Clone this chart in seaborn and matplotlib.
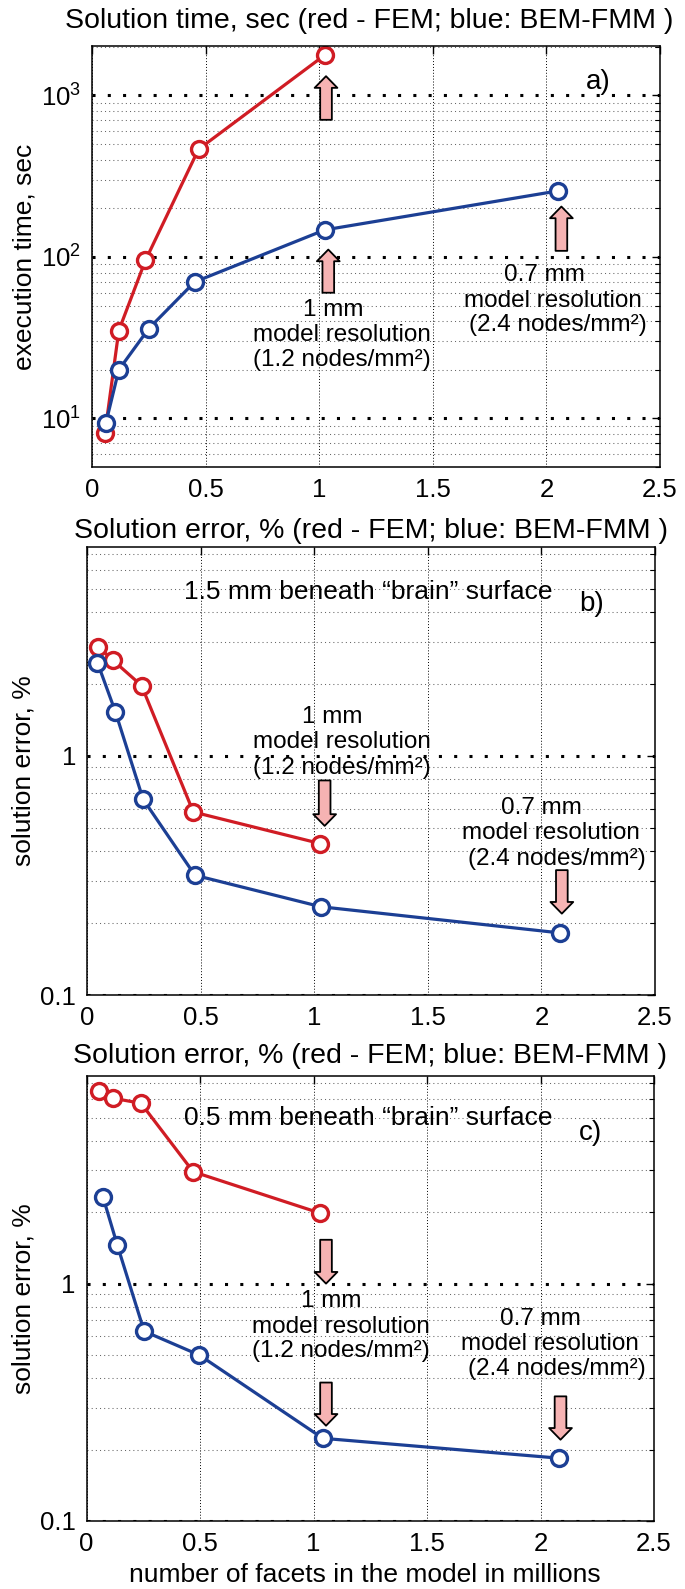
import matplotlib
matplotlib.use('Agg')
import matplotlib.pyplot as plt
import seaborn as sns
from matplotlib.ticker import FixedLocator, NullLocator, FuncFormatter, LogLocator, NullFormatter

# Style: white background, MATLAB-like black axes
sns.set_theme(style='white', rc={'axes.edgecolor': 'black', 'text.color': 'black',
                                 'xtick.color': 'black', 'ytick.color': 'black',
                                 'axes.labelcolor': 'black', 'axes.linewidth': 1.1})
plt.rcParams['font.family'] = ['Liberation Sans', 'DejaVu Sans']

RED = '#d01c24'
BLUE = '#1c3f94'
PINK = '#f6b3b3'

# ---- data ----
# a) solution time, sec
a_fem_x = [0.057, 0.118, 0.235, 0.469, 1.025]
a_fem_y = [8.1, 35, 95, 464, 1780]
a_bem_x = [0.061, 0.118, 0.250, 0.452, 1.025, 2.05]
a_bem_y = [9.35, 20, 36, 70, 147, 256]

# b) solution error, % at 1.5 mm
b_fem_x = [0.049, 0.115, 0.240, 0.468, 1.027]
b_fem_y = [2.87, 2.51, 1.97, 0.583, 0.43]
b_bem_x = [0.046, 0.125, 0.247, 0.475, 1.030, 2.08]
b_bem_y = [2.46, 1.53, 0.659, 0.317, 0.234, 0.182]

# c) solution error, % at 0.5 mm
c_fem_x = [0.054, 0.117, 0.240, 0.470, 1.030]
c_fem_y = [6.5, 6.04, 5.75, 2.96, 1.98]
c_bem_x = [0.073, 0.135, 0.254, 0.497, 1.041, 2.08]
c_bem_y = [2.31, 1.46, 0.63, 0.50, 0.223, 0.184]

x_ticks = [0, 0.5, 1, 1.5, 2, 2.5]
x_tick_labels = ['0', '0.5', '1', '1.5', '2', '2.5']

title_a = 'Solution time, sec (red - FEM; blue: BEM-FMM )'
title_err = 'Solution error, % (red - FEM; blue: BEM-FMM )'

# annotation arrows: (x, tail y, tip y)
arrows_a = [(1.03, 706, 1315), (1.04, 60, 111), (2.066, 109, 205)]
arrows_b = [(1.046, 0.79, 0.51), (2.09, 0.333, 0.219)]
arrows_c = [(1.055, 1.53, 1.0), (1.055, 0.383, 0.252), (2.088, 0.335, 0.22)]

# annotation text lines: (text, x, y)
notes_a = [('1 mm', 1.06, 47), ('model resolution', 1.10, 33), ('(1.2 nodes/mm²)', 1.10, 23),
           ('0.7 mm', 1.99, 77), ('model resolution', 2.03, 53), ('(2.4 nodes/mm²)', 2.05, 38)]
notes_b = [('1 mm', 1.08, 1.455), ('model resolution', 1.12, 1.14), ('(1.2 nodes/mm²)', 1.12, 0.894),
           ('0.7 mm', 2.0, 0.603), ('model resolution', 2.04, 0.474), ('(2.4 nodes/mm²)', 2.07, 0.369)]
notes_c = [('1 mm', 1.08, 0.845), ('model resolution', 1.12, 0.657), ('(1.2 nodes/mm²)', 1.12, 0.52),
           ('0.7 mm', 2.0, 0.71), ('model resolution', 2.04, 0.555), ('(2.4 nodes/mm²)', 2.07, 0.438)]

fig = plt.figure(figsize=(6.85, 15.89), dpi=100)
ax_a = fig.add_axes([0.1343, 0.7061, 0.8292, 0.2649])
ax_b = fig.add_axes([0.1270, 0.3738, 0.8292, 0.2821])
ax_c = fig.add_axes([0.1263, 0.0428, 0.8285, 0.2801])


def style_axes(ax, ylim):
    ax.set_yscale('log')
    ax.set_xlim(0, 2.5)
    ax.set_ylim(*ylim)
    ax.xaxis.set_major_locator(FixedLocator(x_ticks))
    ax.set_xticklabels(x_tick_labels)
    ax.xaxis.set_minor_locator(NullLocator())
    ax.yaxis.set_major_locator(LogLocator(base=10, numticks=10))
    ax.yaxis.set_minor_locator(LogLocator(base=10, subs=range(2, 10), numticks=30))
    ax.yaxis.set_minor_formatter(NullFormatter())
    ax.grid(True, which='major', axis='x', color='black', linestyle=(0, (1, 2)), linewidth=0.7)
    ax.grid(True, which='major', axis='y', color='black', linestyle=(0, (1, 4)), linewidth=2.2)
    ax.grid(True, which='minor', axis='y', color='#666666', linestyle=(0, (1, 3)), linewidth=0.75)
    ax.tick_params(which='major', direction='in', length=6, width=1, top=True, right=True,
                   labelsize=18.5, pad=8)
    ax.tick_params(which='minor', direction='in', length=3.5, width=0.8, top=True, right=True)
    for s in ax.spines.values():
        s.set_color('black')
        s.set_linewidth(1.1)


def draw_series(ax, fx, fy, bx, by):
    line_kw = dict(marker='o', markersize=11.5, markerfacecolor='white',
                   markeredgewidth=2.4, linewidth=2.3, sort=False, legend=False)
    sns.lineplot(x=fx, y=fy, ax=ax, color=RED, markeredgecolor=RED, **line_kw)
    sns.lineplot(x=bx, y=by, ax=ax, color=BLUE, markeredgecolor=BLUE, **line_kw)


def draw_arrows(ax, arrows):
    for x, y0, y1 in arrows:
        ax.annotate('', xy=(x, y1), xytext=(x, y0),
                    arrowprops=dict(arrowstyle='simple,head_width=0.82,head_length=0.42,tail_width=0.42',
                                    mutation_scale=20, fc=PINK, ec='black', lw=1.3,
                                    shrinkA=0, shrinkB=0), zorder=4)


def draw_notes(ax, notes):
    for t, x, y in notes:
        ax.text(x, y, t, ha='center', va='center', fontsize=17.5, zorder=5)


# panel a
style_axes(ax_a, (5, 2020))
draw_series(ax_a, a_fem_x, a_fem_y, a_bem_x, a_bem_y)
draw_arrows(ax_a, arrows_a)
draw_notes(ax_a, notes_a)
ax_a.text(2.23, 1210, 'a)', ha='center', va='center', fontsize=20)
ax_a.set_title(title_a, fontsize=20.5, pad=13, x=0.488)
ax_a.set_ylabel('execution time, sec', fontsize=19)
ax_a.yaxis.set_label_coords(-0.098, 0.5)
ax_a.set_xlabel('')

# panel b
pct = FuncFormatter(lambda v, p: f'{v:g}')
style_axes(ax_b, (0.1, 7.5))
ax_b.yaxis.set_major_formatter(pct)
draw_series(ax_b, b_fem_x, b_fem_y, b_bem_x, b_bem_y)
draw_arrows(ax_b, arrows_b)
draw_notes(ax_b, notes_b)
ax_b.text(1.24, 4.85, '1.5 mm beneath “brain” surface', ha='center', va='center', fontsize=19)
ax_b.text(2.22, 4.33, 'b)', ha='center', va='center', fontsize=20)
ax_b.set_title(title_err, fontsize=20.5, pad=6)
ax_b.set_ylabel('solution error, %', fontsize=19)
ax_b.yaxis.set_label_coords(-0.09, 0.5)
ax_b.set_xlabel('')

# panel c
style_axes(ax_c, (0.1, 7.5))
ax_c.yaxis.set_major_formatter(pct)
draw_series(ax_c, c_fem_x, c_fem_y, c_bem_x, c_bem_y)
draw_arrows(ax_c, arrows_c)
draw_notes(ax_c, notes_c)
ax_c.text(1.24, 5.0, '0.5 mm beneath “brain” surface', ha='center', va='center', fontsize=19)
ax_c.text(2.22, 4.3, 'c)', ha='center', va='center', fontsize=20)
ax_c.set_title(title_err, fontsize=20.5, pad=9)
ax_c.set_ylabel('solution error, %', fontsize=19)
ax_c.yaxis.set_label_coords(-0.09, 0.5)
ax_c.set_xlabel('number of facets in the model in millions', fontsize=19)
ax_c.xaxis.set_label_coords(0.49, -0.094)

fig.savefig('out.png', dpi=100)
